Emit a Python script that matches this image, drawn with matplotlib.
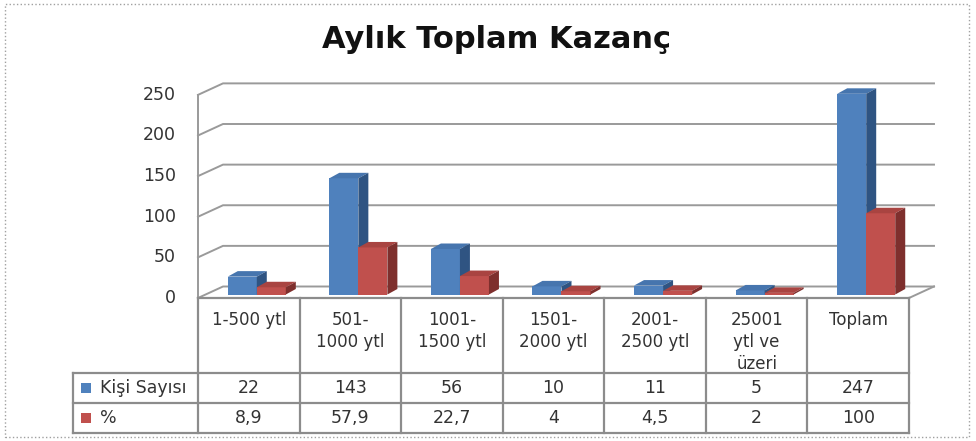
import matplotlib
matplotlib.use('Agg')
import matplotlib.pyplot as plt
from matplotlib.patches import Polygon, Rectangle

# data
categories = ['1-500 ytl', '501-\n1000 ytl', '1001-\n1500 ytl', '1501-\n2000 ytl',
              '2001-\n2500 ytl', '25001\nytl ve\nüzeri', 'Toplam']
kisi_sayisi = [22, 143, 56, 10, 11, 5, 247]
yuzde = [8.9, 57.9, 22.7, 4, 4.5, 2, 100]
series_names = ['Kişi Sayısı', '%']
y_ticks = [0, 50, 100, 150, 200, 250]

blue = ('#4F81BD', '#4675AE', '#2F5482')   # front, top, side
red = ('#C0504D', '#A94441', '#7E2F2D')
grid_c = '#9A9A9A'
line_c = '#8C8C8C'
txt_c = '#333333'

# layout (pixel based): 1 category = 101.57 px, 1 unit = 0.8125 px
SX, SY = 101.57, 0.8125
X0, Y0 = 198, 298
DX, DY = 25 / SX, 11.5 / SY           # wall depth
BW = 1 / 3.5                          # bar width (gap 150%)
BSX, BSY = 8 / SX, 3.5 / SY           # bar depth shift
BDX, BDY = 10 / SX, 5.5 / SY          # bar depth

fig = plt.figure(figsize=(9.76, 4.41), dpi=100)
ax = fig.add_axes([0, 0, 1, 1])
ax.set_xlim(-X0 / SX, (976 - X0) / SX)
ax.set_ylim((Y0 - 441) / SY, Y0 / SY)
ax.axis('off')

n = len(categories)

# walls / gridlines
for v in y_ticks:
    ax.plot([0, DX, n + DX], [v, v + DY, v + DY], color=grid_c, lw=1.4, zorder=1)
ax.plot([0, 0], [0, y_ticks[-1]], color=grid_c, lw=1.4, zorder=1)
ax.plot([n, n + DX], [0, DY], color=grid_c, lw=1.4, zorder=1)
for v in y_ticks:
    ax.text(-22 / SX, v, str(v), ha='right', va='center', fontsize=12.5, color=txt_c)


def bar3d(x0, h, cols, z):
    b = BSY
    f, t, s = cols
    ax.add_patch(Polygon([(x0, b), (x0 + BW, b), (x0 + BW, b + h), (x0, b + h)],
                         closed=True, fc=f, ec='none', zorder=z))
    ax.add_patch(Polygon([(x0, b + h), (x0 + BW, b + h), (x0 + BW + BDX, b + h + BDY),
                          (x0 + BDX, b + h + BDY)], closed=True, fc=t, ec='none', zorder=z))
    ax.add_patch(Polygon([(x0 + BW, b), (x0 + BW + BDX, b + BDY), (x0 + BW + BDX, b + h + BDY),
                          (x0 + BW, b + h)], closed=True, fc=s, ec='none', zorder=z))


z = 2
for i in range(n):
    left = i + 0.75 * BW + BSX
    bar3d(left, kisi_sayisi[i], blue, z)
    bar3d(left + BW, yuzde[i], red, z + 1)
    z += 2

# data table
r0 = 0
r1 = (Y0 - 373) / SY
r2 = (Y0 - 403) / SY
r3 = (Y0 - 433) / SY
lx = (73 - X0) / SX
lw = 1.6
ax.plot([0, n], [r0, r0], color=line_c, lw=lw, zorder=20)
for r in (r1, r2, r3):
    ax.plot([lx, n], [r, r], color=line_c, lw=lw, zorder=20)
for i in range(n + 1):
    ax.plot([i, i], [r0, r3], color=line_c, lw=lw, zorder=20)
ax.plot([lx, lx], [r1, r3], color=line_c, lw=lw, zorder=20)

for i, c in enumerate(categories):
    ax.text(i + 0.5, (Y0 - 311) / SY, c, ha='center', va='top', fontsize=12,
            color=txt_c, linespacing=1.3)
    ax.text(i + 0.5, (r1 + r2) / 2, str(kisi_sayisi[i]), ha='center', va='center',
            fontsize=12.5, color=txt_c)
    ax.text(i + 0.5, (r2 + r3) / 2, f'{yuzde[i]:g}'.replace('.', ','), ha='center',
            va='center', fontsize=12.5, color=txt_c)

for k, (name, col) in enumerate(zip(series_names, [blue[0], red[0]])):
    yc = (r1 + r2) / 2 if k == 0 else (r2 + r3) / 2
    ax.add_patch(Rectangle(((81 - X0) / SX, yc - 5 / SY), 10 / SX, 10 / SY,
                           fc=col, ec='none', zorder=21))
    ax.text((100 - X0) / SX, yc, name, ha='left', va='center', fontsize=12.5, color=txt_c)

fig.text(0.509, 1 - 40 / 441, 'Aylık Toplam Kazanç', ha='center', va='center',
         fontsize=22, fontweight='bold', color='#111111')

fig.patches.append(Rectangle((5 / 976, 4 / 441), 964 / 976, 433 / 441, transform=fig.transFigure,
                             fill=False, ec='#A0A0A0', lw=1, ls=':'))

fig.savefig('out.png', dpi=100)
